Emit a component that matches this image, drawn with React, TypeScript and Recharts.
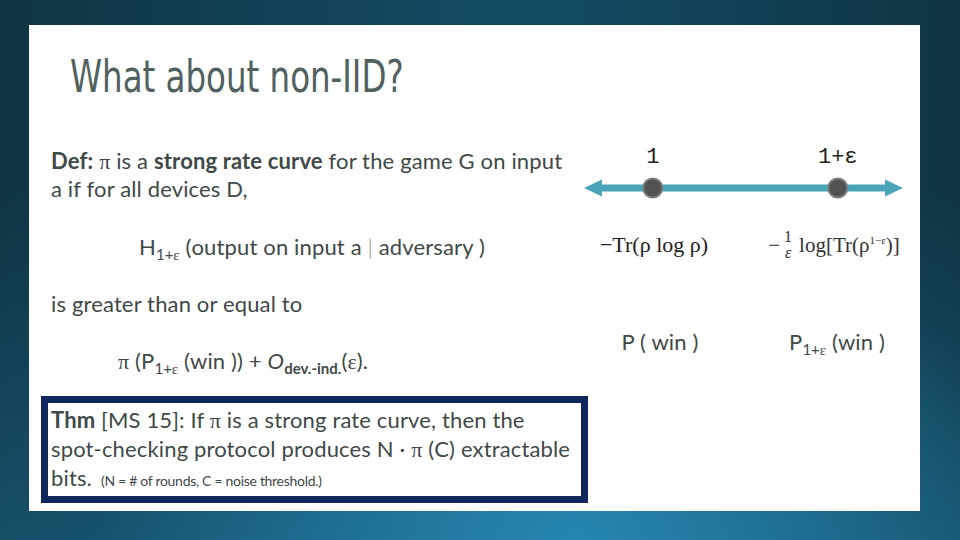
import React from "react";
import { ComposedChart, Line, Scatter, XAxis, YAxis } from "recharts";

// ---- number line data ----
const xDomain = [0.9585, 1.1423];
const lineExtent = [0.9704, 1.1277]; // where the arrowheads sit
const pointValues = [1, 1.1];
const pointLabels = ["1", "1+\u03b5"];

const LINE_COLOR = "#4aa4b8";
const TEXT = "#3f4947";

const shaftData = lineExtent.map((x) => ({ x, y: 0.5 }));
const arrowData = lineExtent.map((x, i) => ({ x, y: 0.5, dir: i === 0 ? -1 : 1 }));
const pointData = pointValues.map((x, i) => ({ x, y: 0.5, label: pointLabels[i] }));

const ArrowHead = (props: any) => {
  const { cx, cy, payload } = props;
  const d = payload.dir;
  const tip = cx + d * 14;
  const base = cx - d * 4;
  return <polygon points={`${tip},${cy} ${base},${cy - 8.5} ${base},${cy + 8.5}`} fill={LINE_COLOR} />;
};

const PointShape = (props: any) => {
  const { cx, cy, payload } = props;
  return (
    <g>
      <circle cx={cx} cy={cy} r={9.5} fill="#525252" stroke="#7c7c7c" strokeWidth={2} />
      <text x={cx} y={cy - 25} textAnchor="middle" fontFamily="'Liberation Mono', 'DejaVu Sans Mono', monospace" fontSize={22} fill="#222">
        {payload.label}
      </text>
    </g>
  );
};

const body: React.CSSProperties = {
  position: "absolute",
  fontFamily: "Lato, 'Noto Sans', sans-serif",
  fontSize: 22,
  letterSpacing: "0.15px",
  lineHeight: "26px",
  color: TEXT,
  whiteSpace: "nowrap",
};
const pi = <span style={{ fontFamily: "'Liberation Serif', serif" }}>π</span>;
const eps = <span style={{ fontFamily: "'Liberation Serif', serif" }}>ε</span>;
const sub = (s: React.ReactNode, extra: React.CSSProperties = {}) => (
  <span style={{ fontSize: 15, verticalAlign: -5, letterSpacing: 0, ...extra }}>{s}</span>
);
const line = (baseline: number, left: number, content: React.ReactNode, extra: React.CSSProperties = {}) => (
  <div style={{ ...body, left, top: baseline - 19.7, ...extra }}>{content}</div>
);

export default function App() {
  return (
    <div
      style={{
        position: "fixed",
        left: 0,
        top: 0,
        width: 960,
        height: 540,
        overflow: "hidden",
        background:
          "radial-gradient(ellipse 50% 60% at 60% 100%, rgba(40,142,186,0.85) 0%, rgba(40,142,186,0) 100%), " +
          "linear-gradient(180deg, rgba(30,112,150,0) 35%, rgba(30,112,150,0.45) 100%), " +
          "linear-gradient(90deg, #0f3443 0%, #134b63 50%, #124a62 60%, #0f3443 100%)",
      }}
    >
      <div style={{ position: "absolute", left: 29, top: 25, width: 891, height: 486, background: "#fefefe" }} />
      <div
        style={{
          position: "absolute",
          left: 70,
          top: 93 - 41.6,
          fontFamily: "'Liberation Sans Narrow', 'DejaVu Sans Condensed', sans-serif",
          fontSize: 44,
          lineHeight: "52.8px",
          color: "#516160",
          whiteSpace: "nowrap",
          transform: "scaleX(0.82)",
          transformOrigin: "left center",
        }}
      >
        What about non-IID?
      </div>

      {line(168, 51, <><b>Def:</b> {pi} is a <b>strong rate curve</b> for the game G on input</>)}
      {line(196, 51, <>a if for all devices D,</>)}
      {line(254, 139, <>H{sub(<>1+{eps}</>)} (output on input a <span style={{ color: "#888", fontWeight: 300 }}>|</span> adversary )</>)}
      {line(311, 51, <>is greater than or equal to</>)}
      {line(368, 118, <>{pi} (P{sub(<>1+{eps}</>)} (win )) + <i>O</i>{sub("dev.-ind.", { fontWeight: 700 })}({eps}).</>)}

      <div style={{ position: "absolute", left: 41, top: 396, width: 547, height: 107, border: "7px solid #10275e", boxSizing: "border-box", background: "#fff" }} />
      {line(427, 51, <><b>Thm</b> [MS 15]: If {pi} is a strong rate curve, then the</>)}
      {line(456, 51, <>spot-checking protocol produces N · {pi} (C) extractable</>)}
      {line(485, 51, <>bits. <span style={{ fontSize: 14, letterSpacing: "-0.3px" }}>&nbsp;(N = # of rounds, C = noise threshold.)</span></>)}

      <div style={{ position: "absolute", left: 576, top: 140 }}>
        <ComposedChart width={340} height={96} margin={{ top: 0, right: 0, bottom: 0, left: 0 }}>
          <XAxis type="number" dataKey="x" domain={xDomain} hide allowDataOverflow />
          <YAxis type="number" dataKey="y" domain={[0, 1]} hide />
          <Line data={shaftData} dataKey="y" stroke={LINE_COLOR} strokeWidth={7} dot={false} isAnimationActive={false} />
          <Scatter data={arrowData} dataKey="y" shape={ArrowHead} isAnimationActive={false} />
          <Scatter data={pointData} dataKey="y" shape={PointShape} isAnimationActive={false} />
        </ComposedChart>
      </div>

      {/* formulas under the points */}
      <div style={{ position: "absolute", left: 654, top: 245, transform: "translate(-50%, -50%)", fontFamily: "'Liberation Serif', serif", fontSize: 22, color: "#222", whiteSpace: "nowrap" }}>
        −Tr(ρ log ρ)
      </div>
      <div style={{ position: "absolute", left: 834, top: 245, transform: "translate(-50%, -50%)", fontFamily: "'Liberation Serif', serif", fontSize: 21, color: "#333", whiteSpace: "nowrap", display: "flex", alignItems: "center" }}>
        <span>−</span>
        <span style={{ display: "inline-flex", flexDirection: "column", alignItems: "center", fontSize: 16, lineHeight: "16px", margin: "0 7px 0 4px" }}>
          <span>1</span>
          <span style={{ fontStyle: "italic" }}>ε</span>
        </span>
        <span>
          log[Tr(ρ<sup style={{ fontSize: 11 }}>1−ε</sup>)]
        </span>
      </div>

      <div style={{ ...body, left: 660, top: 342 - 13, transform: "translateX(-50%)" }}>P ( win )</div>
      <div style={{ ...body, left: 837, top: 342 - 13, transform: "translateX(-50%)" }}>
        P{sub(<>1+{eps}</>)} (win )
      </div>
    </div>
  );
}
